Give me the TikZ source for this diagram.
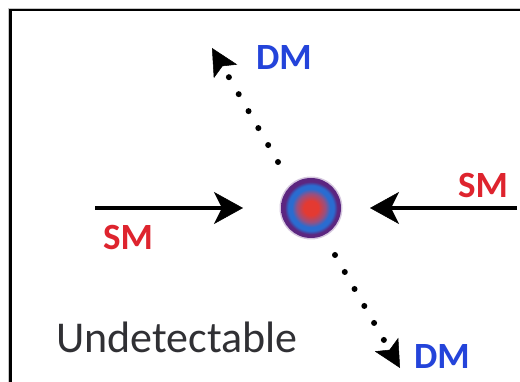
\documentclass[tikz,border=0pt]{standalone}
\usepackage{fontspec}
\setmainfont{Carlito}
\usetikzlibrary{arrows.meta}

\definecolor{smred}{RGB}{222,36,46}
\definecolor{dmblue}{RGB}{36,68,218}
\definecolor{labelgray}{RGB}{48,48,52}
\definecolor{ballred}{RGB}{228,58,50}
\definecolor{ballmid}{RGB}{150,80,130}
\definecolor{ballblue}{RGB}{42,108,208}
\definecolor{ballrim}{RGB}{92,38,128}

% red core, blue shell, purple rim (rim at 25bp)
\pgfdeclareradialshading{particle}{\pgfpoint{0bp}{0bp}}{%
  color(0bp)=(ballred); color(6bp)=(ballred);
  color(12bp)=(ballmid); color(16bp)=(ballblue);
  color(19bp)=(ballblue); color(22bp)=(ballrim);
  color(25bp)=(ballrim); color(50bp)=(ballrim)}

\tikzset{
  smlabel/.style={font=\fontsize{37}{42}\selectfont\bfseries, text=smred, inner sep=0pt},
  dmlabel/.style={font=\fontsize{37}{42}\selectfont\bfseries, text=dmblue, inner sep=0pt},
  flux/.style={line width=4pt, -{Stealth[length=29pt, width=32pt, inset=8pt, line width=0.5pt]}},
  escape/.style={line width=6pt, line cap=round, dash pattern=on 0pt off 19.6pt,
    -{Stealth[length=27pt, width=27pt, inset=6pt, line width=0.5pt]}},
  frameline/.style={line width=2.2pt, black},
}

\begin{document}
\begin{tikzpicture}[x=1pt, y=-1pt]
  \useasboundingbox (0,0) rectangle (520,382);
  \fill[white] (0,0) rectangle (520,382);

  % panel frame (only the top and left edges fall inside)
  \draw[gray!45, line width=0.8pt] (8.3,400) -- (8.3,8.3) -- (540,8.3);
  \draw[frameline] (10.4,400) -- (10.4,10.4) -- (540,10.4);

  % the target particle with a soft rim
  \fill[ballrim, opacity=0.25] (311,208) circle (31.5pt);
  \node[circle, minimum size=60pt, inner sep=0pt, shade, shading=particle] (target) at (311,208) {};

  % standard-model beams
  \coordinate (smL) at (95,208);
  \coordinate (smLtip) at (243,208);
  \coordinate (smR) at (517,208);
  \coordinate (smRtip) at (370,208);
  \draw[flux] (smL) -- (smLtip);
  \draw[flux] (smR) -- (smRtip);
  \node[smlabel] (smLlab) at (128,237) {SM};
  \node[smlabel] (smRlab) at (483,185) {SM};

  % dark-matter products
  \coordinate (dmUstart) at (278,162);
  \coordinate (dmUtip) at (212,48);
  \coordinate (dmDstart) at (335,255);
  \coordinate (dmDtip) at (400,368);
  \draw[escape] (dmUstart) -- (dmUtip);
  \draw[escape] (dmDstart) -- (dmDtip);
  \node[dmlabel] (dmUlab) at (284,58) {DM};
  \node[dmlabel] (dmDlab) at (442,357) {DM};

  \node[font=\fontsize{44}{49}\selectfont, text=labelgray, inner sep=0pt] (verdict) at (177,337) {Undetectable};
\end{tikzpicture}
\end{document}
